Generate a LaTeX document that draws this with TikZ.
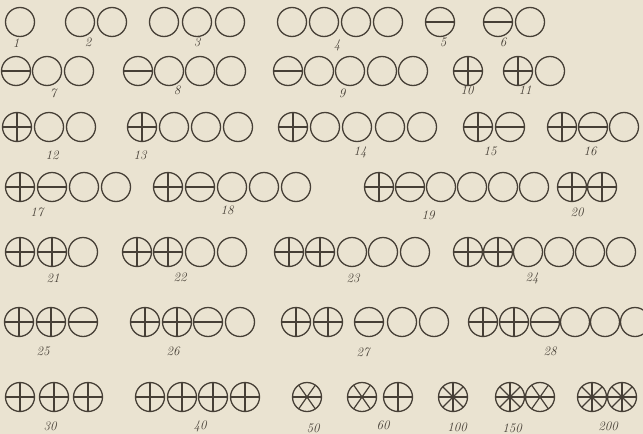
\documentclass[tikz,border=0pt]{standalone}
\usepackage{tikz}
\usetikzlibrary{positioning}
\definecolor{paper}{RGB}{234,227,209}
\definecolor{ink}{RGB}{70,63,54}
\tikzset{
  spoke/.style={draw=ink, line width=1.2pt},
  ring/.style={circle, draw=ink, line width=1.3pt, minimum size=29pt, inner sep=0pt, outer sep=0pt},
  unitring/.style={ring},
  fivering/.style={ring, path picture={\draw[spoke] (path picture bounding box.west) -- (path picture bounding box.east);}},
  tenring/.style={ring, path picture={\foreach \a in {0,90} \draw[spoke] (path picture bounding box.center) +(\a:16pt) -- +(\a+180:16pt);}},
  fiftyring/.style={ring, path picture={\foreach \a in {0,55,125} \draw[spoke] (path picture bounding box.center) +(\a:16pt) -- +(\a+180:16pt);}},
  hundredring/.style={ring, path picture={\foreach \a in {0,45,90,135} \draw[spoke] (path picture bounding box.center) +(\a:16pt) -- +(\a+180:16pt);}},
  numlabel/.style={text=ink, font=\fontsize{13}{15}\selectfont\itshape, inner sep=0pt}
}
\begin{document}
\begin{tikzpicture}[x=1pt, y=-1pt]
	\useasboundingbox (0,0) rectangle (643,434);
	\fill[paper] (0,0) rectangle (643,434);
	% Row 1: 1 to 6
	\node[unitring] (n1a) at (20,22){};
	\node[unitring] (n2a) at (80,22){}; \node[unitring] (n2b) at (112,22){};
	\node[unitring] (n3a) at (164,22){}; \node[unitring] (n3b) at (197,22){}; \node[unitring] (n3c) at (230,22){};
	\node[unitring] (n4a) at (292,22){}; \node[unitring] (n4b) at (324,22){}; \node[unitring] (n4c) at (356,22){}; \node[unitring] (n4d) at (388,22){};
	\node[fivering] (n5a) at (440,22){};
	\node[fivering] (n6a) at (498,22){}; \node[unitring] (n6b) at (530,22){};
	\node[numlabel] (l1) at (16,43){1};
	\node[numlabel] (l2) at (88,42){2};
	\node[numlabel] (l3) at (197,42){3};
	\node[numlabel] (l4) at (337,45){4};
	\node[numlabel] (l5) at (443,42){5};
	\node[numlabel] (l6) at (503,42){6};
	% Row 2: 7 to 11
	\node[fivering] (n7a) at (16,71){}; \node[unitring] (n7b) at (47,71){}; \node[unitring] (n7c) at (79,71){};
	\node[fivering] (n8a) at (138,71){}; \node[unitring] (n8b) at (169,71){}; \node[unitring] (n8c) at (200,71){}; \node[unitring] (n8d) at (231,71){};
	\node[fivering] (n9a) at (288,71){}; \node[unitring] (n9b) at (319,71){}; \node[unitring] (n9c) at (350,71){}; \node[unitring] (n9d) at (382,71){}; \node[unitring] (n9e) at (413,71){};
	\node[tenring] (n10a) at (468,71){};
	\node[tenring] (n11a) at (518,71){}; \node[unitring] (n11b) at (550,71){};
	\node[numlabel] (l7) at (53,93){7};
	\node[numlabel] (l8) at (177,90){8};
	\node[numlabel] (l9) at (342,93){9};
	\node[numlabel] (l10) at (467,90){10};
	\node[numlabel] (l11) at (525,90){11};
	% Row 3: 12 to 16
	\node[tenring] (n12a) at (17,127){}; \node[unitring] (n12b) at (49,127){}; \node[unitring] (n12c) at (81,127){};
	\node[tenring] (n13a) at (142,127){}; \node[unitring] (n13b) at (174,127){}; \node[unitring] (n13c) at (206,127){}; \node[unitring] (n13d) at (238,127){};
	\node[tenring] (n14a) at (293,127){}; \node[unitring] (n14b) at (325,127){}; \node[unitring] (n14c) at (357,127){}; \node[unitring] (n14d) at (390,127){}; \node[unitring] (n14e) at (422,127){};
	\node[tenring] (n15a) at (478,127){}; \node[fivering] (n15b) at (510,127){};
	\node[tenring] (n16a) at (562,127){}; \node[fivering] (n16b) at (593,127){}; \node[unitring] (n16c) at (624,127){};
	\node[numlabel] (l12) at (52,155){12};
	\node[numlabel] (l13) at (140,155){13};
	\node[numlabel] (l14) at (360,152){14};
	\node[numlabel] (l15) at (490,151){15};
	\node[numlabel] (l16) at (590,151){16};
	% Row 4: 17 to 20
	\node[tenring] (n17a) at (20,187){}; \node[fivering] (n17b) at (52,187){}; \node[unitring] (n17c) at (84,187){}; \node[unitring] (n17d) at (116,187){};
	\node[tenring] (n18a) at (168,187){}; \node[fivering] (n18b) at (200,187){}; \node[unitring] (n18c) at (232,187){}; \node[unitring] (n18d) at (264,187){}; \node[unitring] (n18e) at (296,187){};
	\node[tenring] (n19a) at (379,187){}; \node[fivering] (n19b) at (410,187){}; \node[unitring] (n19c) at (441,187){}; \node[unitring] (n19d) at (472,187){}; \node[unitring] (n19e) at (503,187){}; \node[unitring] (n19f) at (534,187){};
	\node[tenring] (n20a) at (572,187){}; \node[tenring] (n20b) at (602,187){};
	\node[numlabel] (l17) at (37,212){17};
	\node[numlabel] (l18) at (227,210){18};
	\node[numlabel] (l19) at (428,215){19};
	\node[numlabel] (l20) at (577,212){20};
	% Row 5: 21 to 24
	\node[tenring] (n21a) at (20,252){}; \node[tenring] (n21b) at (52,252){}; \node[unitring] (n21c) at (83,252){};
	\node[tenring] (n22a) at (137,252){}; \node[tenring] (n22b) at (168,252){}; \node[unitring] (n22c) at (200,252){}; \node[unitring] (n22d) at (232,252){};
	\node[tenring] (n23a) at (289,252){}; \node[tenring] (n23b) at (320,252){}; \node[unitring] (n23c) at (352,252){}; \node[unitring] (n23d) at (383,252){}; \node[unitring] (n23e) at (415,252){};
	\node[tenring] (n24a) at (468,252){}; \node[tenring] (n24b) at (498,252){}; \node[unitring] (n24c) at (528,252){}; \node[unitring] (n24d) at (559,252){}; \node[unitring] (n24e) at (590,252){}; \node[unitring] (n24f) at (621,252){};
	\node[numlabel] (l21) at (53,278){21};
	\node[numlabel] (l22) at (180,277){22};
	\node[numlabel] (l23) at (353,278){23};
	\node[numlabel] (l24) at (532,278){24};
	% Row 6: 25 to 28
	\node[tenring] (n25a) at (19,322){}; \node[tenring] (n25b) at (51,322){}; \node[fivering] (n25c) at (83,322){};
	\node[tenring] (n26a) at (145,322){}; \node[tenring] (n26b) at (177,322){}; \node[fivering] (n26c) at (208,322){}; \node[unitring] (n26d) at (240,322){};
	\node[tenring] (n27a) at (296,322){}; \node[tenring] (n27b) at (328,322){}; \node[fivering] (n27c) at (369,322){}; \node[unitring] (n27d) at (402,322){}; \node[unitring] (n27e) at (434,322){};
	\node[tenring] (n28a) at (483,322){}; \node[tenring] (n28b) at (514,322){}; \node[fivering] (n28c) at (545,322){}; \node[unitring] (n28d) at (575,322){}; \node[unitring] (n28e) at (605,322){}; \node[unitring] (n28f) at (635,322){};
	\node[numlabel] (l25) at (43,351){25};
	\node[numlabel] (l26) at (173,351){26};
	\node[numlabel] (l27) at (363,352){27};
	\node[numlabel] (l28) at (550,351){28};
	% Row 7: 30 to 200
	\node[tenring] (n30a) at (20,397){}; \node[tenring] (n30b) at (54,397){}; \node[tenring] (n30c) at (88,397){};
	\node[tenring] (n40a) at (150,397){}; \node[tenring] (n40b) at (182,397){}; \node[tenring] (n40c) at (213,397){}; \node[tenring] (n40d) at (245,397){};
	\node[fiftyring] (n50a) at (307,397){};
	\node[fiftyring] (n60a) at (362,397){}; \node[tenring] (n60b) at (398,397){};
	\node[hundredring] (n100a) at (453,397){};
	\node[hundredring] (n150a) at (510,397){}; \node[fiftyring] (n150b) at (540,397){};
	\node[hundredring] (n200a) at (592,397){}; \node[hundredring] (n200b) at (622,397){};
	\node[numlabel] (l30) at (50,426){30};
	\node[numlabel] (l40) at (200,426){40};
	\node[numlabel] (l50) at (313,428){50};
	\node[numlabel] (l60) at (383,425){60};
	\node[numlabel] (l100) at (457,427){100};
	\node[numlabel] (l150) at (512,428){150};
	\node[numlabel] (l200) at (608,426){200};
\end{tikzpicture}
\end{document}
